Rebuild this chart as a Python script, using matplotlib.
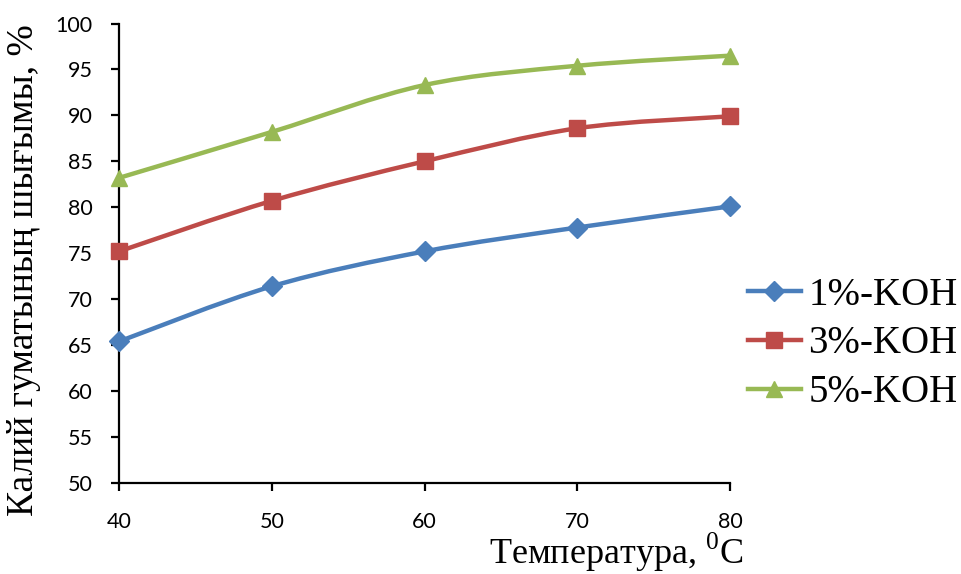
import numpy as np
import matplotlib
matplotlib.use("Agg")
import matplotlib.pyplot as plt
from matplotlib.path import Path
from matplotlib.patches import PathPatch
from matplotlib.lines import Line2D

plt.rcParams['mathtext.fontset'] = 'custom'
plt.rcParams['mathtext.rm'] = 'Liberation Serif'

# Data
temperature = [40, 50, 60, 70, 80]
koh_1 = [65.4, 71.4, 75.2, 77.8, 80.1]
koh_3 = [75.2, 80.7, 85.0, 88.6, 89.9]
koh_5 = [83.2, 88.2, 93.3, 95.4, 96.5]
series_labels = ['1%-KOH', '3%-KOH', '5%-KOH']
x_ticks = [40, 50, 60, 70, 80]
y_ticks = [50, 55, 60, 65, 70, 75, 80, 85, 90, 95, 100]

colors = ['#4A7EBB', '#BE4B48', '#98B954']
markers = ['D', 's', '^']
msizes = [10, 11, 12]

fig = plt.figure(figsize=(9.61, 5.74), dpi=100)
ax = fig.add_axes([119 / 961, 1 - 483 / 574, 611 / 961, 459.5 / 574])


def smooth_path(xs, ys):
    """Bezier path through the points (Catmull-Rom style smoothing)."""
    pts = np.column_stack([xs, ys]).astype(float)
    n = len(pts)
    verts = [pts[0]]
    codes = [Path.MOVETO]
    for i in range(n - 1):
        p0 = pts[i - 1] if i > 0 else pts[i]
        p1 = pts[i]
        p2 = pts[i + 1]
        p3 = pts[i + 2] if i + 2 < n else pts[i + 1]
        c1 = p1 + (p2 - p0) / 6.0
        c2 = p2 - (p3 - p1) / 6.0
        verts += [c1, c2, p2]
        codes += [Path.CURVE4] * 3
    return Path(verts, codes)


handles = []
for ys, c, m, ms, lab in zip([koh_1, koh_3, koh_5], colors, markers, msizes, series_labels):
    patch = PathPatch(smooth_path(temperature, ys), facecolor='none', edgecolor=c,
                      lw=3.2, capstyle='round', joinstyle='round', zorder=2)
    ax.add_patch(patch)
    ax.plot(temperature, ys, linestyle='none', marker=m, ms=ms, color=c,
            mec=c, clip_on=False, zorder=3)
    handles.append(Line2D([], [], color=c, lw=3.2, marker=m, ms=ms, mec=c, label=lab))

ax.set_xlim(40, 80)
ax.set_ylim(50, 100)
ax.set_xticks(x_ticks)
ax.set_yticks(y_ticks)
for s in ['top', 'right']:
    ax.spines[s].set_visible(False)
for s in ['left', 'bottom']:
    ax.spines[s].set_linewidth(1.6)
ax.tick_params(axis='both', direction='out', length=6, width=1.6, labelsize=15.5)
ax.tick_params(axis='y', pad=13)
ax.tick_params(axis='x', pad=15)
for lbl in ax.get_xticklabels() + ax.get_yticklabels():
    lbl.set_family('Lato')

serif = ['Liberation Serif', 'DejaVu Serif']
fig.text(24 / 961, 1 - 270 / 574, 'Калий гуматының шығымы, %', rotation=90,
         ha='center', va='center', fontsize=27, family=serif)
fig.text(743 / 961, 1 - 564 / 574, 'Температура, $^{0}$C', ha='right', va='baseline',
         fontsize=26, family='Liberation Serif')

leg = fig.legend(handles=handles, loc='center left', bbox_to_anchor=(748 / 961, 1 - 344 / 574),
                 frameon=False, fontsize=28, handlelength=1.35, handletextpad=0.2,
                 labelspacing=0.3, borderpad=0, borderaxespad=0)
for t in leg.get_texts():
    t.set_family(serif)

fig.savefig('out.png', dpi=100)
